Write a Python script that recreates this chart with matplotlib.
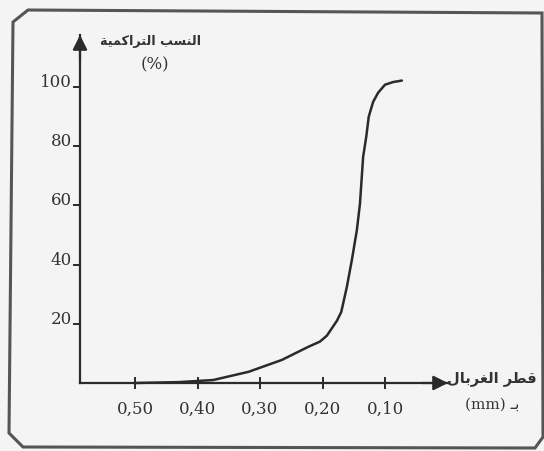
import matplotlib
matplotlib.use("Agg")
import matplotlib.pyplot as plt
from matplotlib.patches import Polygon
from matplotlib.ticker import FixedLocator, FuncFormatter

W, H = 544, 451

# sieve diameter (mm) and cumulative percentage
sieve = [0.50, 0.43, 0.375, 0.318, 0.265, 0.222, 0.204, 0.193, 0.177, 0.170,
         0.161, 0.153, 0.145, 0.140, 0.138, 0.135, 0.130, 0.126, 0.119, 0.111,
         0.100, 0.087, 0.073]
cumul = [0, 0.3, 1, 3.8, 7.8, 12.3, 14.0, 16, 21, 24,
         32.5, 41.6, 51.7, 60.7, 67, 76.4, 83.2, 90, 95, 98.1,
         100.8, 101.7, 102.2]

x_ticks = [0.50, 0.40, 0.30, 0.20, 0.10]
y_ticks = [20, 40, 60, 80, 100]

y_title = "النسب التراكمية"
y_unit = "(%)"
x_title = "قطر الغربال"
x_unit_prefix = "بـ"
x_unit = "(mm)"

INK = "#2a2a2a"
TXT = "#333333"
BG = "#f4f4f4"

# --- tiny Arabic shaper: presentation forms (iso, fin, ini, med) ---
FORMS = {
    "ا": ("\uFE8D", "\uFE8E", None, None),
    "ب": ("\uFE8F", "\uFE90", "\uFE91", "\uFE92"),
    "ة": ("\uFE93", "\uFE94", None, None),
    "ت": ("\uFE95", "\uFE96", "\uFE97", "\uFE98"),
    "ر": ("\uFEAD", "\uFEAE", None, None),
    "س": ("\uFEB1", "\uFEB2", "\uFEB3", "\uFEB4"),
    "ط": ("\uFEC1", "\uFEC2", "\uFEC3", "\uFEC4"),
    "غ": ("\uFECD", "\uFECE", "\uFECF", "\uFED0"),
    "ق": ("\uFED5", "\uFED6", "\uFED7", "\uFED8"),
    "ك": ("\uFED9", "\uFEDA", "\uFEDB", "\uFEDC"),
    "ل": ("\uFEDD", "\uFEDE", "\uFEDF", "\uFEE0"),
    "م": ("\uFEE1", "\uFEE2", "\uFEE3", "\uFEE4"),
    "ن": ("\uFEE5", "\uFEE6", "\uFEE7", "\uFEE8"),
    "ي": ("\uFEF1", "\uFEF2", "\uFEF3", "\uFEF4"),
}
TATWEEL = "\u0640"


def _joins_forward(ch):
    if ch == TATWEEL:
        return True
    return ch in FORMS and FORMS[ch][2] is not None


def _joins(ch):
    return ch in FORMS or ch == TATWEEL


def shape(text):
    # pick contextual forms, then reverse for left-to-right drawing
    out = []
    for i, ch in enumerate(text):
        if ch not in FORMS:
            out.append(ch)
            continue
        prev = text[i - 1] if i > 0 else ""
        nxt = text[i + 1] if i + 1 < len(text) else ""
        jp = _joins_forward(prev)
        jn = _joins(nxt) and FORMS[ch][2] is not None
        iso, fin, ini, med = FORMS[ch]
        if jp and jn:
            out.append(med)
        elif jp:
            out.append(fin)
        elif jn:
            out.append(ini)
        else:
            out.append(iso)
    return "".join(reversed(out))


fig = plt.figure(figsize=(W / 100, H / 100), dpi=100)
fig.patch.set_facecolor(BG)


def fx(px):
    return px / W


def fy(py):
    return 1 - py / H


# scanned frame with clipped corners
frame = [(13, 22), (28, 10), (542, 13), (543, 437), (535, 448), (23, 447), (9, 433)]
fig.add_artist(Polygon([(fx(a), fy(b)) for a, b in frame], closed=True,
                       transform=fig.transFigure, facecolor="none",
                       edgecolor="#555555", linewidth=2.2))

ax = fig.add_axes([fx(80), fy(383), fx(448) - fx(80), fy(35) - fy(383)])
ax.set_facecolor("none")
ax.set_xlim(0.588, -0.0008)
ax.set_ylim(0, 117.6)

ax.plot(sieve, cumul, color=INK, linewidth=1.8, solid_capstyle="round",
        solid_joinstyle="round", clip_on=False, zorder=3)

for side in ("top", "right"):
    ax.spines[side].set_visible(False)
for side in ("left", "bottom"):
    ax.spines[side].set_color(INK)
    ax.spines[side].set_linewidth(1.6)

arrow = dict(arrowstyle="-|>", color=INK, lw=1.6, mutation_scale=22,
             shrinkA=0, shrinkB=0)
ax.annotate("", xy=(1.0, 0), xytext=(0.93, 0), xycoords="axes fraction",
            arrowprops=arrow)
ax.annotate("", xy=(0, 1.0), xytext=(0, 0.93), xycoords="axes fraction",
            arrowprops=arrow)

ax.xaxis.set_major_locator(FixedLocator(x_ticks))
ax.xaxis.set_major_formatter(FuncFormatter(lambda v, p: f"{v:.2f}".replace(".", ",")))
ax.yaxis.set_major_locator(FixedLocator(y_ticks))
ax.tick_params(axis="x", direction="inout", length=9, width=1.4, color=INK,
               pad=8, labelsize=12, labelcolor=TXT)
ax.tick_params(axis="y", direction="out", length=5, width=1.4, color=INK,
               pad=1, labelsize=12, labelcolor=TXT)
for lbl in ax.get_xticklabels() + ax.get_yticklabels():
    lbl.set_family("DejaVu Serif")
for t in ax.yaxis.get_major_ticks():
    t.label1.set_va("baseline")

arab = dict(family="DejaVu Sans", weight="bold", color=TXT)
fig.text(fx(150), fy(42), shape(y_title), ha="center", va="center",
         fontsize=9.2, **arab)
fig.text(fx(155), fy(65), y_unit, ha="center", va="center",
         family="DejaVu Serif", fontsize=12, color=TXT)
fig.text(fx(492), fy(378), shape(x_title), ha="center", va="center",
         fontsize=10.5, **arab)
fig.text(fx(492), fy(405), x_unit + " " + shape(x_unit_prefix), ha="center",
         va="center", family=["DejaVu Serif", "DejaVu Sans"], fontsize=11,
         color=TXT)

fig.savefig("out.png", dpi=100, facecolor=BG)
